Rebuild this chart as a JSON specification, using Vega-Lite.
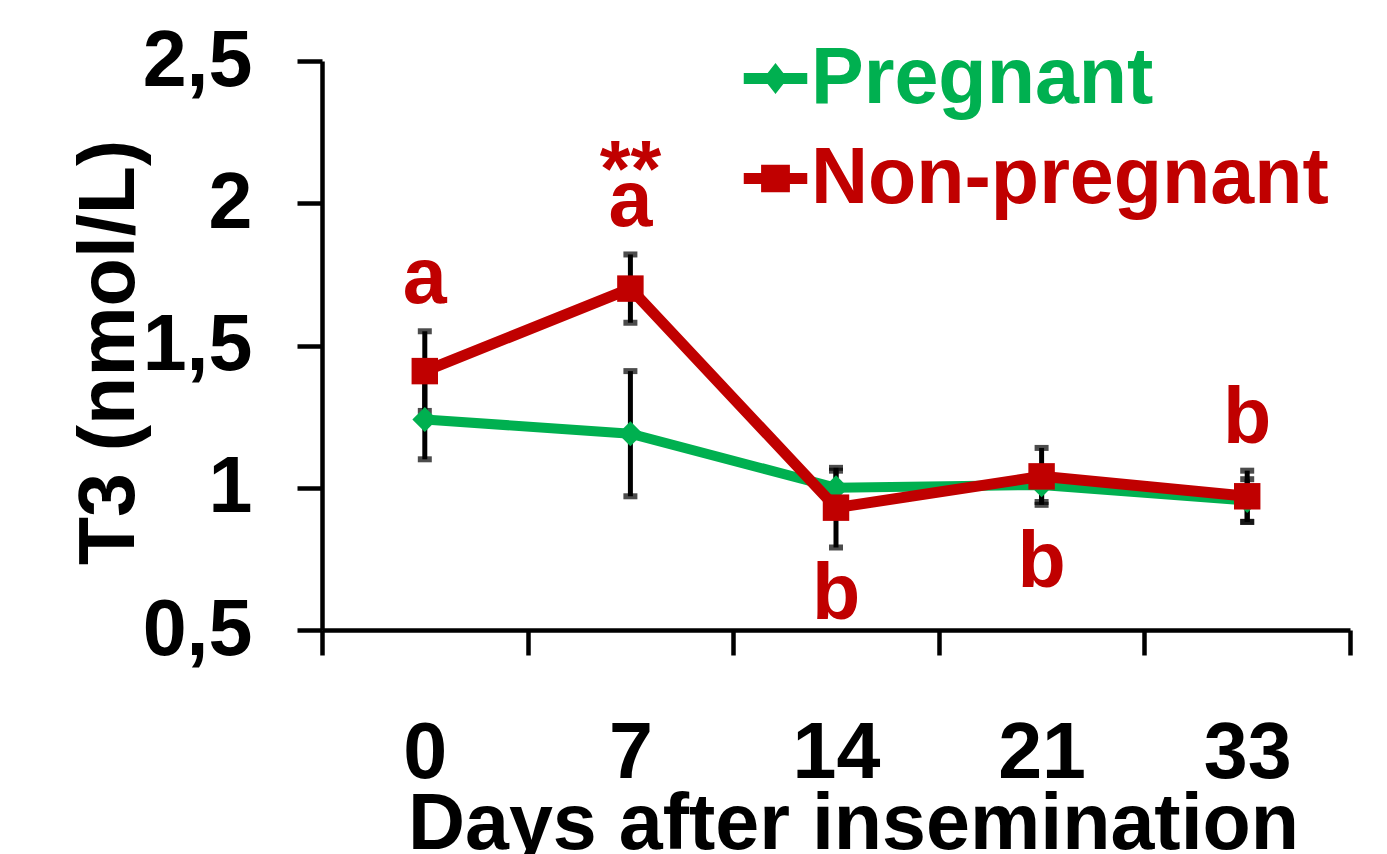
{
  "$schema": "https://vega.github.io/schema/vega-lite/v6.json",
  "width": 1028,
  "height": 569,
  "autosize": {"type": "none"},
  "padding": {"left": 322, "top": 61, "right": 37, "bottom": 224},
  "background": "white",
  "config": {"view": {"stroke": null}, "font": "Liberation Sans"},
  "data": {
    "values": [
      {"day": "0", "series": "Pregnant", "mean": 1.24, "lo": 1.10, "hi": 1.38, "letter": "", "pos": "", "star": ""},
      {"day": "7", "series": "Pregnant", "mean": 1.19, "lo": 0.97, "hi": 1.41, "letter": "", "pos": "", "star": ""},
      {"day": "14", "series": "Pregnant", "mean": 1.00, "lo": 0.94, "hi": 1.06, "letter": "", "pos": "", "star": ""},
      {"day": "21", "series": "Pregnant", "mean": 1.01, "lo": 0.95, "hi": 1.07, "letter": "", "pos": "", "star": ""},
      {"day": "33", "series": "Pregnant", "mean": 0.955, "lo": 0.88, "hi": 1.03, "letter": "", "pos": "", "star": ""},
      {"day": "0", "series": "Non-pregnant", "mean": 1.41, "lo": 1.27, "hi": 1.55, "letter": "a", "pos": "above", "star": ""},
      {"day": "7", "series": "Non-pregnant", "mean": 1.70, "lo": 1.58, "hi": 1.82, "letter": "a", "pos": "above", "star": "**"},
      {"day": "14", "series": "Non-pregnant", "mean": 0.93, "lo": 0.79, "hi": 1.07, "letter": "b", "pos": "below", "star": ""},
      {"day": "21", "series": "Non-pregnant", "mean": 1.04, "lo": 0.94, "hi": 1.14, "letter": "b", "pos": "below", "star": ""},
      {"day": "33", "series": "Non-pregnant", "mean": 0.97, "lo": 0.88, "hi": 1.06, "letter": "b", "pos": "above", "star": ""}
    ]
  },
  "encoding": {
    "x": {
      "field": "day",
      "type": "nominal",
      "sort": ["0", "7", "14", "21", "33"],
      "bandPosition": 0.5,
      "scale": {"type": "band", "paddingInner": 0, "paddingOuter": 0},
      "axis": {
        "title": "Days after insemination",
        "titleFont": "Liberation Sans",
        "titleFontSize": 79,
        "titleFontWeight": "bold",
        "titleColor": "black",
        "titleX": 531,
        "titleY": 218,
        "titleBaseline": "alphabetic",
        "titleAlign": "center",
        "labelFont": "Liberation Sans",
        "labelFontSize": 79,
        "labelFontWeight": "bold",
        "labelColor": "black",
        "labelAngle": 0,
        "labelBaseline": "alphabetic",
        "labelPadding": 122,
        "tickBand": "extent",
        "tickSize": 25,
        "tickWidth": 4.5,
        "tickColor": "black",
        "domainWidth": 4.5,
        "domainColor": "black",
        "grid": false
      }
    }
  },
  "layer": [
    {
      "mark": {"type": "rule", "color": "black", "strokeWidth": 5},
      "encoding": {
        "y": {
          "field": "lo",
          "type": "quantitative",
          "scale": {"domain": [0.5, 2.5], "nice": false, "zero": false},
          "axis": {
            "title": "T3 (nmol/L)",
            "values": [0.5, 1, 1.5, 2, 2.5],
            "labelExpr": "replace(toString(datum.value), '.', ',')",
            "titleFont": "Liberation Sans",
            "titleFontSize": 79,
            "titleFontWeight": "bold",
            "titleColor": "black",
            "titleX": -189,
            "titleY": 291,
            "titleAngle": -90,
            "titleBaseline": "alphabetic",
            "titleAlign": "center",
            "labelFont": "Liberation Sans",
            "labelFontSize": 79,
            "labelFontWeight": "bold",
            "labelColor": "black",
            "labelPadding": 45,
            "labelBaseline": "middle",
            "tickSize": 25,
            "tickWidth": 4.5,
            "tickColor": "black",
            "domainWidth": 4.5,
            "domainColor": "black",
            "grid": false
          }
        },
        "y2": {"field": "hi"}
      }
    },
    {
      "mark": {"type": "tick", "color": "black", "size": 14, "thickness": 6, "orient": "horizontal"},
      "encoding": {"y": {"field": "hi", "type": "quantitative"}}
    },
    {
      "mark": {"type": "tick", "color": "black", "size": 14, "thickness": 6, "orient": "horizontal"},
      "encoding": {"y": {"field": "lo", "type": "quantitative"}}
    },
    {
      "transform": [{"filter": "datum.series === 'Pregnant'"}],
      "mark": {"type": "line", "strokeWidth": 10},
      "encoding": {
        "y": {"field": "mean", "type": "quantitative"},
        "color": {
          "field": "series",
          "type": "nominal",
          "scale": {"domain": ["Pregnant", "Non-pregnant"], "range": ["#00B050", "#C00000"]},
          "legend": {
            "title": null,
            "orient": "none",
            "legendX": 414,
            "legendY": -22,
            "padding": 0,
            "labelFont": "Liberation Sans",
            "labelFontSize": 79,
            "labelFontWeight": "bold",
            "labelLimit": 2000,
            "labelOffset": -4,
            "rowPadding": 20,
            "symbolSize": 3844,
            "encode": {
              "symbols": {
                "update": {
                  "shape": {"signal": "datum.value === 'Pregnant' ? 'M-1,-0.15 L1,-0.15 L1,0.15 L-1,0.15 Z M-0.36,0 L0,-0.46 L0.36,0 L0,0.46 Z' : 'M-1,-0.15 L1,-0.15 L1,0.15 L-1,0.15 Z M-0.44,-0.42 L0.44,-0.42 L0.44,0.42 L-0.44,0.42 Z'"},
                  "fill": {"scale": "color", "field": "value"},
                  "stroke": {"value": "transparent"},
                  "opacity": {"value": 1},
                  "size": {"value": 3844}
                }
              },
              "labels": {
                "update": {"fill": {"scale": "color", "field": "value"}}
              }
            }
          }
        }
      }
    },
    {
      "transform": [{"filter": "datum.series === 'Pregnant'"}],
      "mark": {"type": "point", "shape": "diamond", "filled": true, "size": 620, "opacity": 1},
      "encoding": {
        "y": {"field": "mean", "type": "quantitative"},
        "color": {"field": "series", "type": "nominal"}
      }
    },
    {
      "transform": [{"filter": "datum.series === 'Non-pregnant'"}],
      "mark": {"type": "line", "strokeWidth": 11},
      "encoding": {
        "y": {"field": "mean", "type": "quantitative"},
        "color": {"field": "series", "type": "nominal"}
      }
    },
    {
      "transform": [{"filter": "datum.series === 'Non-pregnant'"}],
      "mark": {"type": "point", "shape": "square", "filled": true, "size": 700, "opacity": 1},
      "encoding": {
        "y": {"field": "mean", "type": "quantitative"},
        "color": {"field": "series", "type": "nominal"}
      }
    },
    {
      "transform": [{"filter": "datum.pos === 'above'"}],
      "mark": {"type": "text", "font": "Liberation Sans", "fontSize": 79, "fontWeight": "bold", "color": "#C00000", "baseline": "alphabetic", "align": "center", "dy": -28},
      "encoding": {
        "y": {"field": "hi", "type": "quantitative"},
        "text": {"field": "letter"}
      }
    },
    {
      "transform": [{"filter": "datum.pos === 'below'"}],
      "mark": {"type": "text", "font": "Liberation Sans", "fontSize": 79, "fontWeight": "bold", "color": "#C00000", "baseline": "alphabetic", "align": "center", "dy": 111},
      "encoding": {
        "y": {"field": "mean", "type": "quantitative"},
        "text": {"field": "letter"}
      }
    },
    {
      "transform": [{"filter": "datum.star !== ''"}],
      "mark": {"type": "text", "font": "Liberation Sans", "fontSize": 79, "fontWeight": "bold", "color": "#C00000", "baseline": "alphabetic", "align": "center", "dy": -58},
      "encoding": {
        "y": {"field": "hi", "type": "quantitative"},
        "text": {"field": "star"}
      }
    }
  ]
}
